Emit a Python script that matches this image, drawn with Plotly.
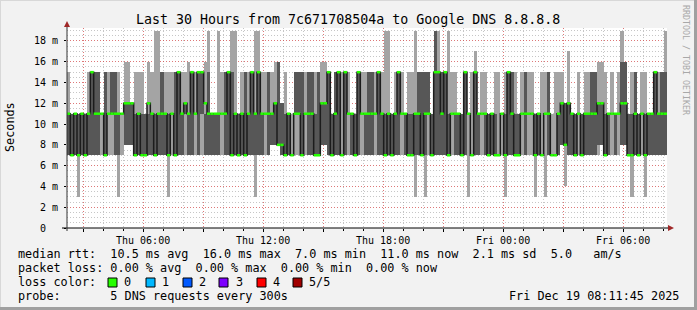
import plotly.graph_objects as go
from datetime import datetime, timedelta

# ---------------- data (10-minute columns, values in ms) ----------------
start = datetime(2025, 12, 18, 2, 11, 45)
end = datetime(2025, 12, 19, 8, 11, 45)
step_minutes = 10

ping_min = [
    7,7,7,3,7,7,7,7,7,7, 7,7,7,7,7,3,7,8,8,8, 7,7,7,7,7,7,7,7,7,7, 3,7,7,7,7,7,
    7,7,7,7,7,7,7,7,7,7, 7,7,7,7,7,7,7,7,7,7, 3,7,7,7,7,8,8,8,7,7, 7,7,7,7,7,7,
    7,7,7,7,8,8,7,7,7,7, 7,7,7,7,7,7,7,7,7,7, 7,7,7,7,7,7,7,7,7,7, 7,7,3,7,7,3,
    7,7,7,7,7,7,7,7,7,7, 7,7,3,7,7,7,7,7,7,7, 7,7,7,3,7,7,7,7,7,7, 7,7,3,7,7,3,
    7,7,7,7,8,4,7,7,7,7, 7,7,7,7,7,7,8,7,7,7, 7,7,8,8,7,3,7,7,7,3, 7,7,7,7,7,7,
]
ping_max = [
    15,11,11,11,11,11,15,15,15,15, 11,15,15,15,15,15,11,16,16,12, 15,15,15,11,16,15,19,19,15,15, 15,15,15,15,15,15,
    16,15,15,15,15,16,19,11,11,19, 15,15,15,19,19,11,15,15,15,15, 19,19,15,15,15,15,16,16,12,15, 11,11,15,15,15,15,
    15,15,15,15,16,16,15,11,15,15, 15,15,15,11,11,15,15,15,15,15, 15,15,15,19,19,11,15,15,15,11, 15,15,19,15,15,15,
    15,11,19,19,15,15,19,15,15,11, 11,15,11,15,17,11,15,15,11,11, 15,15,11,15,15,15,15,11,15,15, 15,15,11,11,15,15,
    15,11,15,15,15,12,17,11,11,15, 11,15,15,15,15,16,16,15,11,15, 11,15,19,16,11,15,15,11,15,15, 11,11,15,15,15,19,
]
inner_lo = [
    7,7,7,7,7,7,7,7,7,7, 11,7,11,11,7,7,11,8,8,8, 7,7,7,7,7,7,7,7,7,7, 7,11,7,7,7,11,
    7,7,11,7,11,7,7,7,7,7, 11,7,7,7,7,7,7,7,7,7, 7,7,7,11,7,8,8,8,7,7, 7,11,11,11,7,11,
    7,7,7,7,8,8,7,7,7,7, 11,7,11,7,7,7,11,7,7,7, 11,7,7,7,7,7,7,7,11,7, 7,7,7,7,7,7,
    11,7,7,7,7,7,7,11,7,7, 7,7,11,11,7,7,11,7,7,7, 7,11,11,7,7,7,7,7,11,7, 11,11,7,7,11,11,
    7,11,11,7,8,8,7,7,7,11, 7,7,7,7,7,8,8,7,7,11, 7,11,8,8,7,7,7,7,11,7, 7,7,7,7,7,7,
]
inner_hi = [
    11,11,11,11,11,11,11,15,15,15, 11,15,11,15,15,11,11,12,12,12, 11,11,11,11,11,11,11,11,15,11, 11,11,15,15,11,12,
    11,15,11,15,15,11,15,11,11,11, 11,15,15,15,11,11,11,15,11,15, 11,15,11,11,15,11,12,16,12,11, 11,11,15,15,15,11,
    15,15,11,15,12,12,15,11,15,15, 11,15,11,11,11,15,11,11,15,15, 11,15,11,11,11,11,11,15,11,11, 11,11,11,15,15,15,
    15,11,19,15,15,15,11,11,11,11, 11,15,11,11,15,11,11,11,11,11, 11,11,11,11,15,15,11,11,11,15, 11,11,11,11,11,11,
    15,11,11,11,12,12,12,11,11,11, 11,11,11,15,15,12,12,11,11,11, 11,11,16,16,11,11,15,11,11,11, 11,11,15,11,15,15,
]
median = [
    11,7,11,7,11,7,11,15,11,11, 11,7,11,11,11,11,11,12,12,12, 7,11,7,7,12,11,7,11,11,11, 7,11,7,15,11,12,
    11,15,11,15,15,12,11,11,11,11, 11,11,15,7,11,7,11,7,11,15, 11,15,11,11,11,11,12,8,8,7, 11,7,11,11,7,11,
    11,11,7,7,12,12,15,7,11,15, 7,15,11,11,7,15,11,11,11,11, 11,15,11,7,11,7,11,15,11,11, 7,7,11,11,7,11,
    11,7,15,15,11,15,7,11,11,11, 7,15,11,7,15,11,11,11,7,11, 7,7,11,7,15,11,7,7,11,11, 11,11,7,11,7,11,
    11,7,7,11,12,8,12,11,7,11, 7,11,11,11,11,12,12,7,11,11, 11,11,12,12,7,7,11,7,11,7, 11,11,15,11,11,11,
]

y_tick_vals = [0, 2, 4, 6, 8, 10, 12, 14, 16, 18]
y_tick_text = ["0\u00a0\u00a0", "2 m", "4 m", "6 m", "8 m", "10 m", "12 m", "14 m", "16 m", "18 m"]

x_tick_vals = [datetime(2025, 12, 18, 3), datetime(2025, 12, 18, 6), datetime(2025, 12, 18, 9),
               datetime(2025, 12, 18, 12), datetime(2025, 12, 18, 15), datetime(2025, 12, 18, 18),
               datetime(2025, 12, 18, 21), datetime(2025, 12, 19, 0), datetime(2025, 12, 19, 3),
               datetime(2025, 12, 19, 6)]
x_tick_text = ["", "Thu 06:00", "", "Thu 12:00", "", "Thu 18:00", "", "Fri 00:00", "", "Fri 06:00"]

title_text = "Last 30 Hours from 7c671708504a to Google DNS 8.8.8.8"
legend_lines = [
    "median rtt:  10.5 ms avg  16.0 ms max  7.0 ms min  11.0 ms now  2.1 ms sd  5.0   am/s",
    "packet loss: 0.00 % avg  0.00 % max  0.00 % min  0.00 % now",
    "loss color:",
    "probe:       5 DNS requests every 300s",
]
loss_labels = ["0", "1", "2", "3", "4", "5/5"]
loss_colors = ["#26ff00", "#00b8ff", "#0059ff", "#7e00ff", "#ff0000", "#a10000"]
timestamp_text = "Fri Dec 19 08:11:45 2025"

# ---------------- figure ----------------
MONO = "DejaVu Sans Mono"
step = timedelta(minutes=step_minutes)
n = len(median)
x_mid = [start + step * (i + 0.5) for i in range(n)]
x_left = [start + step * i for i in range(n)]
width_ms = step_minutes * 60 * 1000

fig = go.Figure()
fig.add_trace(go.Bar(
    x=x_mid, y=[h - l for h, l in zip(ping_max, ping_min)], base=ping_min,
    width=width_ms, marker=dict(color="#a4a4a4", line=dict(width=0)), hoverinfo="skip"))
fig.add_trace(go.Bar(
    x=x_mid, y=[h - l for h, l in zip(inner_hi, inner_lo)], base=inner_lo,
    width=width_ms, marker=dict(color="#575757", line=dict(width=0)), hoverinfo="skip"))
# median step line (dark vertical transitions)
fig.add_trace(go.Scatter(
    x=x_left + [end], y=median + [median[-1]], mode="lines",
    line=dict(color="#1c1c1c", width=1.5, shape="hv"), hoverinfo="skip"))
# green horizontal median marks (loss 0)
gx, gy = [], []
for i in range(n):
    gx += [x_left[i], x_left[i] + step, None]
    gy += [median[i], median[i], None]
fig.add_trace(go.Scatter(x=gx, y=gy, mode="lines",
                         line=dict(color="#26ff00", width=2.5), hoverinfo="skip"))


def px(xp):
    return (xp - 67) / 600.0


def py(yp):
    return (228 - yp) / 200.0


shapes = []
# axes lines
shapes.append(dict(type="line", xref="paper", yref="paper", x0=px(62), x1=px(670), y0=0, y1=0,
                   line=dict(color="black", width=1)))
shapes.append(dict(type="line", xref="paper", yref="paper", x0=0, x1=0, y0=py(231), y1=py(24),
                   line=dict(color="#333333", width=1)))
# arrows
shapes.append(dict(type="path", xref="paper", yref="paper",
                   path=f"M {px(668)} {py(225)} L {px(674)} {py(228)} L {px(668)} {py(231)} Z",
                   fillcolor="#a02828", line=dict(width=0)))
shapes.append(dict(type="path", xref="paper", yref="paper",
                   path=f"M {px(64)} {py(27)} L {px(67)} {py(21)} L {px(70)} {py(27)} Z",
                   fillcolor="#a02828", line=dict(width=0)))
# legend colour boxes
box_x = [108, 146, 183, 219, 257, 293]
for bx, col in zip(box_x, loss_colors):
    shapes.append(dict(type="rect", xref="paper", yref="paper",
                       x0=px(bx), x1=px(bx + 9), y0=py(287), y1=py(278),
                       fillcolor=col, line=dict(color="black", width=1)))
# outer frame
shapes.append(dict(type="line", xref="paper", yref="paper", x0=px(0), x1=px(697), y0=py(0.5), y1=py(0.5),
                   line=dict(color="#d8d8d8", width=1)))
shapes.append(dict(type="line", xref="paper", yref="paper", x0=px(0.5), x1=px(0.5), y0=py(0), y1=py(310),
                   line=dict(color="#d8d8d8", width=1)))
shapes.append(dict(type="line", xref="paper", yref="paper", x0=px(0), x1=px(697), y0=py(308.5), y1=py(308.5),
                   line=dict(color="#a0a0a0", width=3)))
shapes.append(dict(type="line", xref="paper", yref="paper", x0=px(695.5), x1=px(695.5), y0=py(0), y1=py(310),
                   line=dict(color="#a0a0a0", width=3)))

ann = []
ann.append(dict(text=title_text, x=px(348), y=py(19), xref="paper", yref="paper",
                showarrow=False, xanchor="center", yanchor="middle",
                font=dict(family=MONO, size=13.3, color="black")))
ann.append(dict(text="Seconds", x=px(10), y=py(127), xref="paper", yref="paper",
                showarrow=False, xanchor="center", yanchor="middle", textangle=-90,
                font=dict(family=MONO, size=11.8, color="black")))
ann.append(dict(text="RRDTOOL / TOBI OETIKER", x=px(686), y=py(60), xref="paper", yref="paper",
                showarrow=False, xanchor="center", yanchor="middle", textangle=90,
                font=dict(family=MONO, size=8.3, color="#a8a8a8")))
for line_text, yc in zip(legend_lines, [254, 268, 282, 296]):
    ann.append(dict(text=line_text.replace(" ", "\u00a0"), x=px(16), y=py(yc), xref="paper", yref="paper",
                    showarrow=False, xanchor="left", yanchor="middle",
                    font=dict(family=MONO, size=11.8, color="black")))
label_x = [122, 160, 197, 234, 271, 307]
for lx, lab in zip(label_x, loss_labels):
    ann.append(dict(text=lab, x=px(lx), y=py(282), xref="paper", yref="paper",
                    showarrow=False, xanchor="left", yanchor="middle",
                    font=dict(family=MONO, size=11.8, color="black")))
ann.append(dict(text=timestamp_text, x=px(681), y=py(296), xref="paper", yref="paper",
                showarrow=False, xanchor="right", yanchor="middle",
                font=dict(family=MONO, size=11.8, color="black")))

fig.update_layout(
    width=697, height=310,
    margin=dict(l=67, r=30, t=28, b=82, pad=0),
    paper_bgcolor="#f2f2f2", plot_bgcolor="white",
    showlegend=False, barmode="overlay", bargap=0,
    shapes=shapes, annotations=ann,
    xaxis=dict(type="date", range=[start, end], tickmode="array",
               tickvals=x_tick_vals, ticktext=x_tick_text, layer="above traces",
               showgrid=True, gridcolor="rgba(255,0,0,0.4)", griddash="1px,2px", gridwidth=1,
               ticks="outside", ticklen=3, tickcolor="black",
               tickfont=dict(family=MONO, size=10, color="black"),
               minor=dict(dtick=3600000, tick0="2025-12-18 00:00:00", showgrid=True,
                          gridcolor="rgba(128,128,128,0.45)", griddash="1px,2px", gridwidth=1,
                          ticks="outside", ticklen=2, tickcolor="black"),
               showline=False, zeroline=False, fixedrange=True),
    yaxis=dict(range=[0, 19.25], tickmode="array", tickvals=y_tick_vals, ticktext=y_tick_text,
               layer="above traces",
               showgrid=True, gridcolor="rgba(255,0,0,0.4)", griddash="1px,2px", gridwidth=1,
               ticks="outside", ticklen=2, tickcolor="black", ticklabelstandoff=4,
               tickfont=dict(family=MONO, size=10, color="black"),
               minor=dict(dtick=0.5, tick0=0, showgrid=True, gridcolor="rgba(128,128,128,0.45)",
                          griddash="1px,2px", gridwidth=1),
               showline=False, zeroline=False, fixedrange=True),
)

fig.write_html("out.html")
